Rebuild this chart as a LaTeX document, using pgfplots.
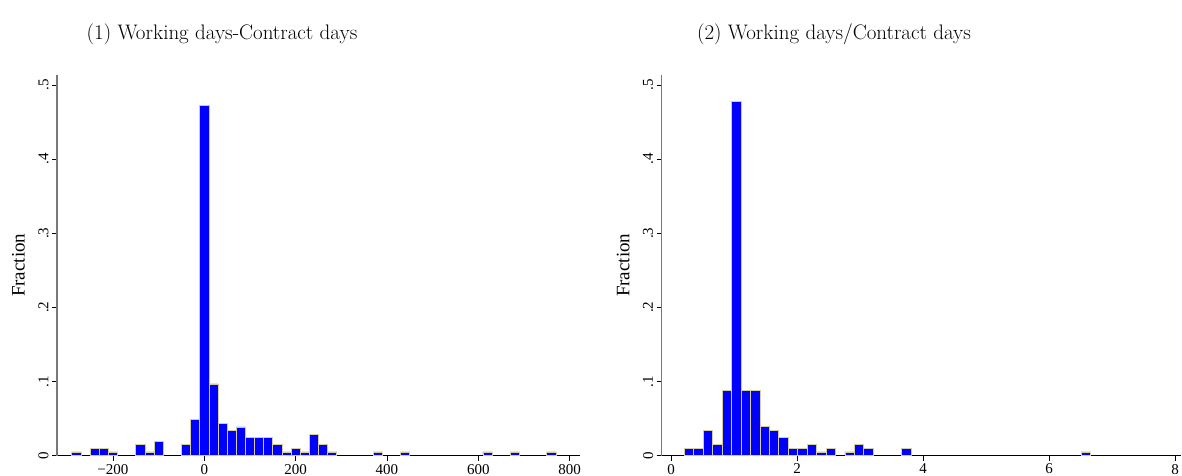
\documentclass[border=0pt]{standalone}
\usepackage{pgfplots}
\pgfplotsset{compat=1.18}
\usepackage{pgfplotstable}
\usepackage{fontspec}
\newfontfamily\tms{Liberation Serif}
\definecolor{barblue}{RGB}{0,0,255}
\definecolor{baredge}{RGB}{214,204,160}
\definecolor{yaxgray}{RGB}{120,120,120}

\pgfplotstableread{
x y
-280 0.0048
-240 0.0097
-220 0.0097
-200 0.0048
-140 0.0145
-120 0.0048
-100 0.0193
-40 0.0145
-20 0.0483
0 0.4730
20 0.0966
40 0.0435
60 0.0338
80 0.0386
100 0.0242
120 0.0242
140 0.0242
160 0.0145
180 0.0048
200 0.0097
220 0.0048
240 0.0290
260 0.0145
280 0.0048
380 0.0048
440 0.0048
620 0.0048
680 0.0048
760 0.0048
}\datA

\pgfplotstableread{
x y
0.285 0.0097
0.435 0.0097
0.585 0.0340
0.735 0.0145
0.885 0.0874
1.035 0.4775
1.185 0.0874
1.335 0.0874
1.485 0.0388
1.635 0.0340
1.785 0.0243
1.935 0.0097
2.085 0.0097
2.235 0.0145
2.385 0.0049
2.535 0.0097
2.835 0.0049
2.985 0.0145
3.135 0.0097
3.735 0.0097
6.585 0.0049
}\datB

\pgfplotsset{
  hist/.style={
    scale only axis,
    anchor=south west,
    height=380.5pt,
    ymin=0, ymax=0.5135,
    axis x line=bottom, axis y line=left,
    x axis line style={-, black, line width=0.8pt},
    y axis line style={-, yaxgray, line width=1.5pt},
    tick align=outside,
    major tick length=5pt,
    tick style={black, line width=0.8pt},
    ytick={0,0.1,0.2,0.3,0.4,0.5},
    yticklabels={0,.1,.2,.3,.4,.5},
    yticklabel style={rotate=90, anchor=south, font=\tms\fontsize{15}{15}\selectfont},
    xticklabel style={font=\tms\fontsize{15}{15}\selectfont},
    ylabel={Fraction},
    every axis y label/.style={rotate=90, anchor=south, inner sep=0pt, font=\tms\fontsize{19}{19}\selectfont},
    clip=false,
  },
  histbar/.style={ybar, bar shift=0pt, fill=barblue, draw=baredge, line width=0.7pt},
}

\begin{document}
\begin{tikzpicture}
\useasboundingbox (0,0) rectangle (1182pt,476pt);
\begin{axis}[hist,
  at={(57pt,20.5pt)}, width=523pt,
  xmin=-322.5, xmax=822.6,
  xtick={-200,0,200,400,600,800},
  xticklabels={−200,0,200,400,600,800},
  every axis y label/.append style={at={(axis description cs:-0.0612,0.5)}},
]
\addplot[histbar, bar width=20] table[x=x,y=y] {\datA};
\end{axis}
\begin{axis}[hist,
  at={(661.7pt,20.5pt)}, width=519.6pt,
  xmin=-0.148, xmax=8.1,
  xtick={0,2,4,6,8},
  xticklabels={0,2,4,6,8},
  every axis y label/.append style={at={(axis description cs:-0.0616,0.5)}},
]
\addplot[histbar, bar width=0.15] table[x=x,y=y] {\datB};
\end{axis}
\node[anchor=base, font=\fontsize{21}{21}\selectfont] at (222pt,436pt) {(1) Working days-Contract days};
\node[anchor=base, font=\fontsize{21}{21}\selectfont] at (834pt,436pt) {(2) Working days/Contract days};
\end{tikzpicture}
\end{document}
